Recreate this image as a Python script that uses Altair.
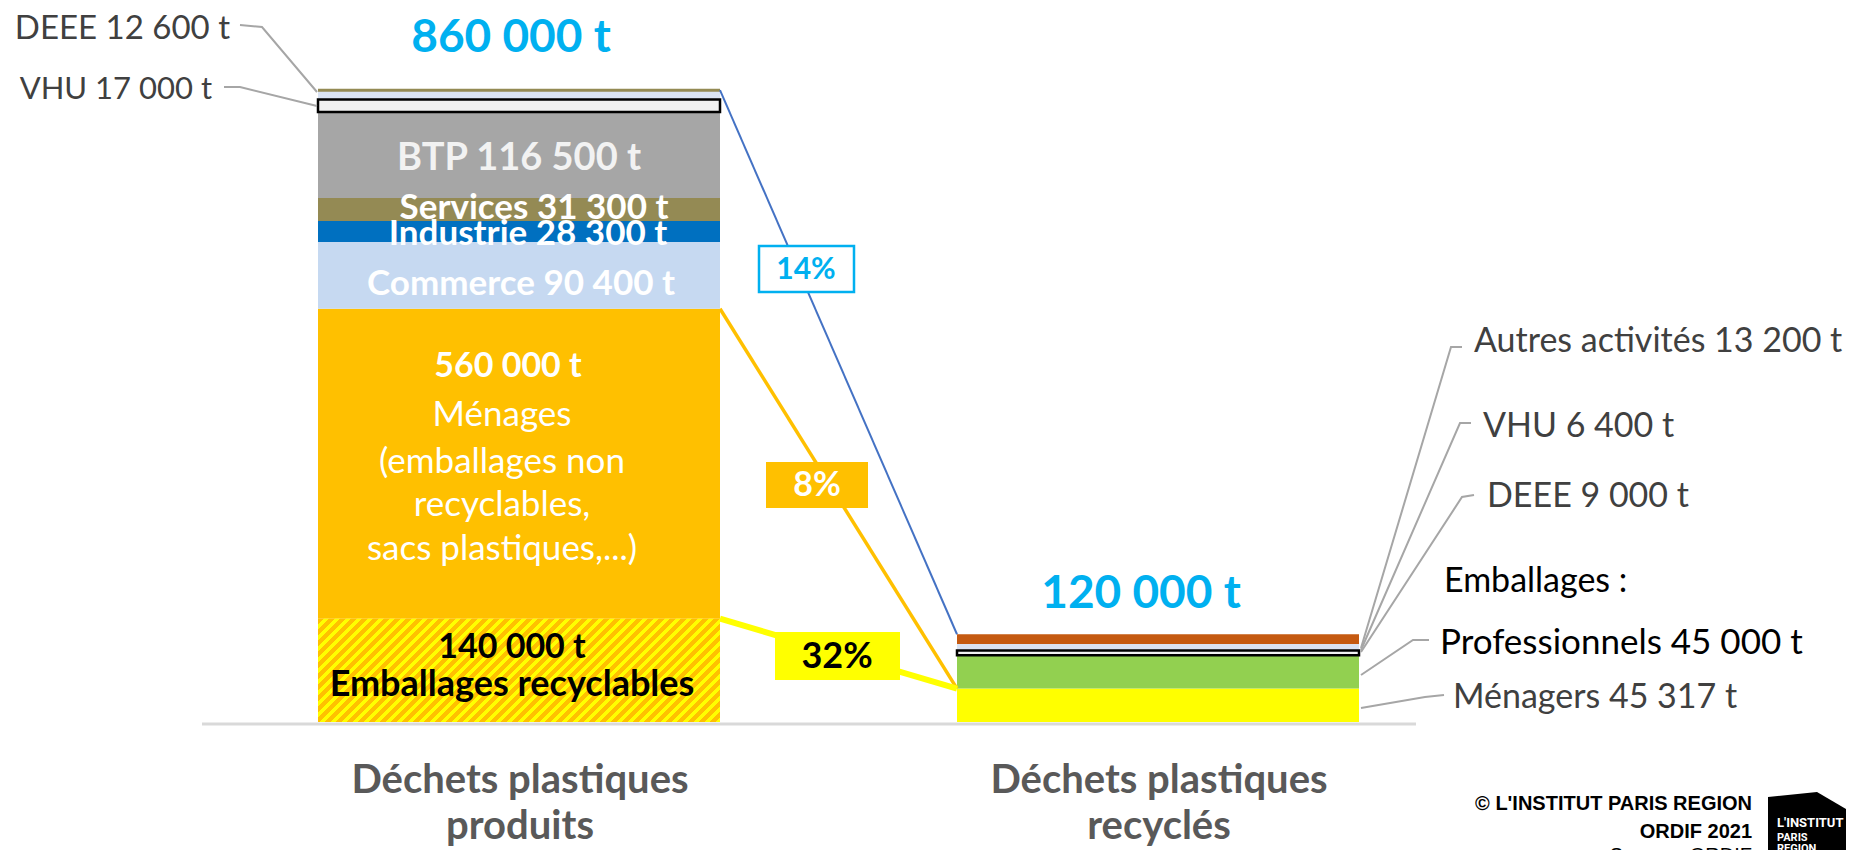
import altair as alt
import pandas as pd

# ------------------------------------------------------------------ data
PRODUCED_CATEGORIES = ["Commerce", "Industrie", "Services", "BTP", "VHU", "DEEE"]   # bottom -> top, above households
PRODUCED_VALUES = [90400, 28300, 31300, 116500, 17000, 12600]
MENAGES_TOTAL = 560000            # households, all
EMBALLAGES_RECYCLABLES = 140000   # of which recyclable packaging
TOTAL_PRODUCED = 860000

RECYCLED_CATEGORIES = ["Ménagers", "Professionnels", "VHU", "DEEE", "Autres activités"]  # bottom -> top
RECYCLED_VALUES = [45317, 45000, 6400, 9000, 13200]
TOTAL_RECYCLED = 120000

GROUP_LABELS = [["Déchets plastiques", "produits"], ["Déchets plastiques", "recyclés"]]
MENAGES_LINES = ["Ménages", "(emballages non", "recyclables,", "sacs plastiques,...)"]
FOOTER_LINES = ["© L'INSTITUT PARIS REGION", "ORDIF 2021", "Source : ORDIF"]
LOGO_LINES = ["L'INSTITUT", "PARIS", "REGION"]

# ------------------------------------------------------------------ layout / style
W, H = 1847, 842
BASE_PX = 714          # pixel row of the zero line
K = 0.000738           # pixels per tonne
YMIN = -(H - BASE_PX) / K
YMAX = BASE_PX / K
YS = alt.Scale(domain=[YMIN, YMAX], nice=False, zero=False)

BAR_X = {"P": (310, 712), "R": (949, 1351)}
ORANGE, YELLOW = "#FFC000", "#FFFF00"
FILL = {
    ("P", "Emballages recyclables"): ORANGE, ("P", "Ménages"): ORANGE,
    ("P", "Commerce"): "#C6D9F1", ("P", "Industrie"): "#0070C0",
    ("P", "Services"): "#948A54", ("P", "BTP"): "#A6A6A6",
    ("P", "VHU"): "#F2F2F2", ("P", "DEEE"): "#DAE3F3",
    ("R", "Ménagers"): YELLOW, ("R", "Professionnels"): "#92D050",
    ("R", "VHU"): "#F2F2F2", ("R", "DEEE"): "#DAE3F3",
    ("R", "Autres activités"): "#C55A11",
}
FONT = "Lato"
DY = 2  # small vertical nudge for all annotation texts


def fmt(v):
    return f"{v:,}".replace(",", " ")


# ------------------------------------------------------------------ bar table
rows = []
left_stack = [("Emballages recyclables", EMBALLAGES_RECYCLABLES),
              ("Ménages", MENAGES_TOTAL - EMBALLAGES_RECYCLABLES)] + list(zip(PRODUCED_CATEGORIES, PRODUCED_VALUES))
for i, (n, v) in enumerate(left_stack):
    rows.append(dict(group="P", order=i, name=n, value=v, x0=BAR_X["P"][0], x1=BAR_X["P"][1],
                     fill=FILL[("P", n)], hatch=(n == "Emballages recyclables"), outline=(n == "VHU")))
for i, (n, v) in enumerate(zip(RECYCLED_CATEGORIES, RECYCLED_VALUES)):
    rows.append(dict(group="R", order=i, name=n, value=v, x0=BAR_X["R"][0], x1=BAR_X["R"][1],
                     fill=FILL[("R", n)], hatch=False, outline=(n == "VHU")))
bars = pd.DataFrame(rows)

left_top = sum(v for _, v in left_stack)
right_top = sum(RECYCLED_VALUES)
menagers_recycled = RECYCLED_VALUES[0]

base = alt.Chart(bars).transform_stack(
    stack="value", groupby=["group"], as_=["v0", "v1"],
    sort=[alt.SortField(field="order", order="ascending")])
enc = dict(x=alt.X("x0:Q", scale=None), x2="x1",
           y=alt.Y("v0:Q", scale=YS, axis=None), y2="v1")

bar_layer = base.transform_filter("!datum.hatch").mark_rect().encode(
    color=alt.Color("fill:N", scale=None), **enc)

# hatch as a striped linear gradient (45 degrees)
hatch_h = EMBALLAGES_RECYCLABLES * K
bar_w = BAR_X["P"][1] - BAR_X["P"][0]
r = hatch_h / bar_w
s = (1 + r) / (1 + r * r)
N = 46
stops = []
for i in range(N):
    a, b, c = i / N, (i + 0.55) / N, min((i + 1) / N, 1.0)
    stops += [{"offset": a, "color": ORANGE}, {"offset": b, "color": ORANGE},
              {"offset": b, "color": YELLOW}, {"offset": c, "color": YELLOW}]
gradient = {"gradient": "linear", "x1": 0, "y1": 0, "x2": s, "y2": s * r, "stops": stops}
hatch_layer = base.transform_filter("datum.hatch").mark_rect(fill=gradient).encode(**enc)

outline_layer = base.transform_filter("datum.outline").mark_rect(
    fill="transparent", stroke="black", strokeWidth=2.5).encode(**enc)

top_line = alt.Chart(pd.DataFrame({"v": [left_top], "x0": [BAR_X["P"][0]], "x1": [BAR_X["P"][1]]})).mark_rule(
    color="#948A54", strokeWidth=3).encode(x=alt.X("x0:Q", scale=None), x2="x1",
                                           y=alt.Y("v:Q", scale=YS, axis=None))

baseline = alt.Chart(pd.DataFrame({"a": [0]})).mark_rule(color="#D9D9D9", strokeWidth=3).encode(
    x=alt.value(194), x2=alt.value(1408), y=alt.value(716))

# ------------------------------------------------------------------ connectors
xr, xl = BAR_X["P"][1], BAR_X["R"][0]
conn = pd.DataFrame([
    dict(line="tot", px=xr, v=left_top, color="#4472C4", w=2),
    dict(line="tot", px=xl, v=right_top, color="#4472C4", w=2),
    dict(line="men", px=xr, v=MENAGES_TOTAL, color=ORANGE, w=3.5),
    dict(line="men", px=xl, v=menagers_recycled, color=ORANGE, w=3.5),
    dict(line="emb", px=xr, v=EMBALLAGES_RECYCLABLES, color=YELLOW, w=6),
    dict(line="emb", px=xl, v=menagers_recycled, color=YELLOW, w=6),
])
conn_layer = alt.Chart(conn).mark_line().encode(
    x=alt.X("px:Q", scale=None), y=alt.Y("v:Q", scale=YS, axis=None), detail="line:N",
    color=alt.Color("color:N", scale=None), strokeWidth=alt.StrokeWidth("w:Q", scale=None))

# ------------------------------------------------------------------ leader lines
leaders = {
    "deee_l": [(232, 17), (254, 19), (309, 84)],
    "vhu_l": [(216, 79), (232, 79), (309, 98)],
    "autres": [(1454, 339), (1443, 339), (1353, 640)],
    "vhu_r": [(1463, 415), (1452, 415), (1353, 642)],
    "deee_r": [(1466, 487), (1454, 489), (1353, 644)],
    "prof": [(1421, 632), (1405, 632), (1353, 667)],
    "men": [(1436, 687), (1417, 689), (1353, 700)],
}
lead_df = pd.DataFrame([dict(id=k, i=i, px=p[0], py=p[1]) for k, pts in leaders.items() for i, p in enumerate(pts)])
lead_layer = alt.Chart(lead_df).mark_line(color="#A6A6A6", strokeWidth=2).encode(
    x=alt.X("px:Q", scale=None), y=alt.Y("py:Q", scale=None), detail="id:N", order="i:Q")

# ------------------------------------------------------------------ percentage boxes
pct_tot = round(100 * TOTAL_RECYCLED / TOTAL_PRODUCED)
pct_men = round(100 * menagers_recycled / MENAGES_TOTAL)
pct_emb = round(100 * menagers_recycled / EMBALLAGES_RECYCLABLES)
boxes = pd.DataFrame([
    dict(x0=751, x1=846, y0=238, y1=284, fill="white", stroke="#00B0F0", sw=2.5),
    dict(x0=758, x1=860, y0=454, y1=500, fill=ORANGE, stroke=ORANGE, sw=0),
    dict(x0=767, x1=892, y0=624, y1=672, fill=YELLOW, stroke=YELLOW, sw=0),
])
box_layer = alt.Chart(boxes).mark_rect().encode(
    x=alt.X("x0:Q", scale=None), x2="x1", y=alt.Y("y0:Q", scale=None), y2="y1",
    fill=alt.Fill("fill:N", scale=None), stroke=alt.Stroke("stroke:N", scale=None),
    strokeWidth=alt.StrokeWidth("sw:Q", scale=None))

# ------------------------------------------------------------------ logo
logo_df = pd.DataFrame({"x": [1760, 1809, 1838], "y": [789, 784, 801], "y2": [850, 850, 850]})
logo_layer = alt.Chart(logo_df).mark_area(color="black").encode(
    x=alt.X("x:Q", scale=None), y=alt.Y("y:Q", scale=None), y2="y2")

# ------------------------------------------------------------------ texts
GRAY, BLUE, WHITE, BLACK = "#404040", "#00B0F0", "#FFFFFF", "#000000"
pv = dict(zip(PRODUCED_CATEGORIES, PRODUCED_VALUES))
rv = dict(zip(RECYCLED_CATEGORIES, RECYCLED_VALUES))
T = []


def add(text, x, y, size, color, bold=False, align="center", font=FONT):
    T.append(dict(text=text, x=x, y=y + DY, size=size, color=color, bold=bold, align=align, font=font))


add(f"DEEE {fmt(pv['DEEE'])} t", 222, 19, 33, GRAY, align="right")
add(f"VHU {fmt(pv['VHU'])} t", 204, 80, 31, GRAY, align="right")
add(f"{fmt(TOTAL_PRODUCED)} t", 503, 28, 46, BLUE, bold=True)
add(f"BTP {fmt(pv['BTP'])} t", 511, 149, 38, "#F2F2F2", bold=True)
add(f"Services {fmt(pv['Services'])} t", 526, 198, 35, WHITE, bold=True)
add(f"Industrie {fmt(pv['Industrie'])} t", 520, 224, 35, WHITE, bold=True)
add(f"Commerce {fmt(pv['Commerce'])} t", 513, 274, 35, WHITE, bold=True)
add(f"{fmt(MENAGES_TOTAL)} t", 500, 357, 34, WHITE, bold=True)
for line, y in zip(MENAGES_LINES, [405, 452, 495, 539]):
    add(line, 494, y, 35, WHITE)
add(f"{fmt(EMBALLAGES_RECYCLABLES)} t", 504, 638, 34, BLACK, bold=True)
add("Emballages recyclables", 504, 675, 36, BLACK, bold=True)
add(f"{pct_tot}%", 798, 260, 30, BLUE, bold=True)
add(f"{pct_men}%", 809, 476, 34, WHITE, bold=True)
add(f"{pct_emb}%", 829, 647, 36, BLACK, bold=True)
add(f"{fmt(TOTAL_RECYCLED)} t", 1133, 584, 46, BLUE, bold=True)
add(f"Autres activités {fmt(rv['Autres activités'])} t", 1466, 332, 34, GRAY, align="left")
add(f"VHU {fmt(rv['VHU'])} t", 1475, 417, 34, GRAY, align="left")
add(f"DEEE {fmt(rv['DEEE'])} t", 1479, 487, 34, GRAY, align="left")
add("Emballages :", 1436, 572, 34, BLACK, align="left")
add(f"Professionnels {fmt(rv['Professionnels'])} t", 1432, 633, 35, BLACK, align="left")
add(f"Ménagers {fmt(rv['Ménagers'])} t", 1445, 688, 34, GRAY, align="left")
for (l1, l2), cx in zip(GROUP_LABELS, [512, 1151]):
    add(l1, cx, 771, 40, "#595959", bold=True)
    add(l2, cx, 817, 40, "#595959", bold=True)
for line, y in zip(FOOTER_LINES, [794, 822, 846]):
    add(line, 1744, y, 20, BLACK, bold=(line != FOOTER_LINES[-1]), align="right", font="Liberation Sans")
for line, y, sz in zip(LOGO_LINES, [813, 828, 839], [13, 11, 11]):
    add(line, 1769, y, sz, WHITE, bold=True, align="left", font="Roboto")

tdf = pd.DataFrame(T)
text_layers = []
for (align, bold, font), sub in tdf.groupby(["align", "bold", "font"]):
    text_layers.append(
        alt.Chart(sub).mark_text(align=align, baseline="middle", font=font,
                                 fontWeight="bold" if bold else "normal").encode(
            x=alt.X("x:Q", scale=None), y=alt.Y("y:Q", scale=None), text=alt.Text("text:N"),
            size=alt.Size("size:Q", scale=None), color=alt.Color("color:N", scale=None)))

chart = alt.layer(
    baseline, bar_layer, hatch_layer, outline_layer, top_line, conn_layer, lead_layer,
    box_layer, logo_layer, *text_layers
).properties(
    width=W, height=H, padding=0, background="white",
    autosize=alt.AutoSizeParams(type="none", contains="padding"),
).configure_view(stroke=None)

chart.save("out.html", embed_options={"renderer": "svg", "actions": False})
